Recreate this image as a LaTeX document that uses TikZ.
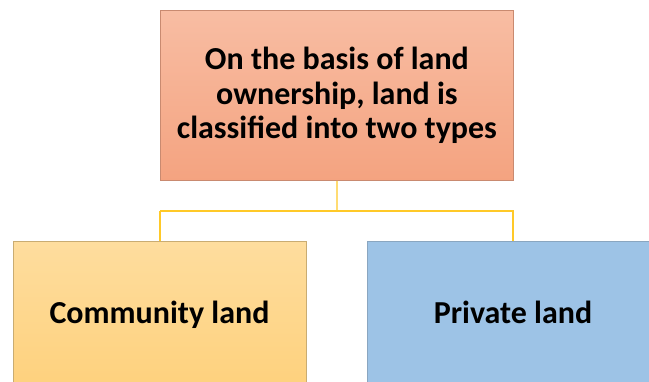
\documentclass[tikz,border=0pt]{standalone}
\usepackage{fontspec}
\setmainfont{Carlito}
\definecolor{salmonTop}{HTML}{F8BDA3}
\definecolor{salmonBot}{HTML}{F4A380}
\definecolor{salmonEdge}{HTML}{C98A70}
\definecolor{sandTop}{HTML}{FEDD9E}
\definecolor{sandBot}{HTML}{FED07A}
\definecolor{sandEdge}{HTML}{C9AC72}
\definecolor{skyFill}{HTML}{9DC3E6}
\definecolor{skyEdge}{HTML}{8AA6C0}
\definecolor{linkGold}{HTML}{FFC928}
\tikzset{
  boxfont/.style={font=\bfseries\fontsize{32}{34.5}\selectfont},
  box/.style={draw, line width=0.8pt, inner sep=0pt, anchor=north west,
    boxfont, align=center},
  link/.style={draw=linkGold, line width=1.3pt},
}
\begin{document}
\begin{tikzpicture}[x=1pt,y=-1pt]
  \useasboundingbox (0,0) rectangle (649,381);
  \clip (0,0) rectangle (649,381);
  % root box
  \node[box, draw=salmonEdge, top color=salmonTop, bottom color=salmonBot,
        minimum width=353pt, minimum height=170pt] (root) at (160,10)
        {On the basis of land\\ownership, land is\\classified into two types};
  % child boxes (they run past the frame)
  \node[box, draw=sandEdge, top color=sandTop, bottom color=sandBot,
        minimum width=293pt, minimum height=160pt] (comm) at (13,241) {};
  \node[box, draw=skyEdge, fill=skyFill,
        minimum width=300pt, minimum height=160pt] (priv) at (367,241) {};
  \node[boxfont, anchor=base, inner sep=0pt] (commlabel) at (159.5,323) {Community land};
  \node[boxfont, anchor=base, inner sep=0pt] (privlabel) at (513,323) {Private land};
  % connectors
  \coordinate (split) at (337,211);
  \coordinate (leftdrop) at (160,211);
  \coordinate (rightdrop) at (513,211);
  \draw[link] (root.south) -- (split);
  \draw[link] (leftdrop) -- (leftdrop |- comm.north);
  \draw[link] (leftdrop) -- (rightdrop) -- (rightdrop |- priv.north);
\end{tikzpicture}
\end{document}
